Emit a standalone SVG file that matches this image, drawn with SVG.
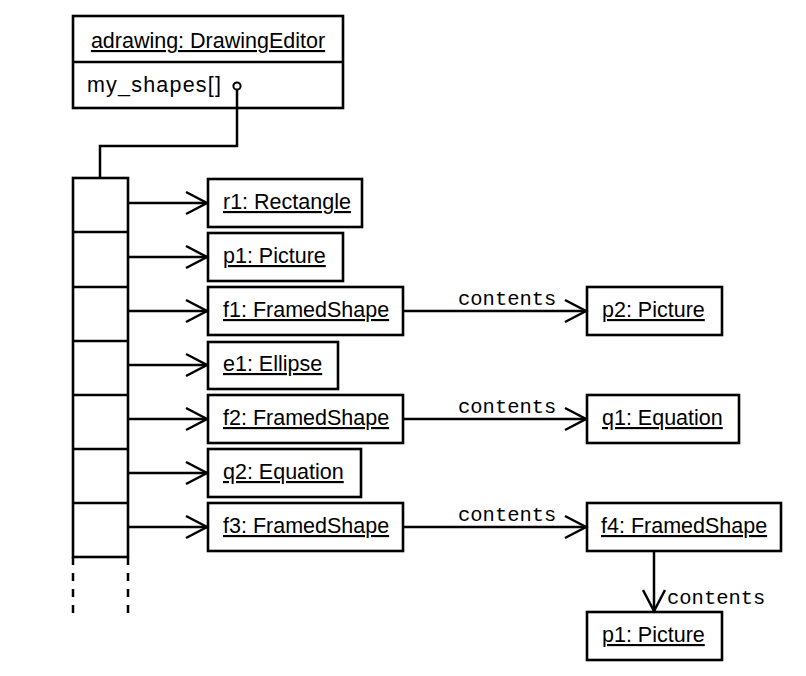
<svg xmlns="http://www.w3.org/2000/svg" width="806" height="676" viewBox="0 0 806 676">
<style>
.box{fill:#fff;stroke:#000;stroke-width:2.6}
.ln{fill:none;stroke:#000;stroke-width:2.5}
.t{font-family:"Liberation Sans",Arial,Helvetica,sans-serif;font-size:21.5px;fill:#000}
.u{text-decoration:underline;text-decoration-thickness:1.4px;text-underline-offset:3px}
.m{font-family:"Liberation Mono","Courier New",monospace;font-size:20.5px;fill:#000}
</style>
<defs>
<marker id="open" markerUnits="userSpaceOnUse" markerWidth="26" markerHeight="26" refX="21" refY="11" orient="auto" overflow="visible">
<path d="M0,0 L21,11 L0,22" fill="none" stroke="#000" stroke-width="2.5"/>
</marker>
</defs>
<rect width="806" height="676" fill="#fff"/>

<g id="adrawing">
<rect class="box" x="73" y="16" width="270" height="92"/>
<line class="ln" x1="73" y1="62" x2="343" y2="62"/>
<text class="t u" x="208" y="48" text-anchor="middle">adrawing: DrawingEditor</text>
<text class="t" x="87" y="92" letter-spacing="1.2">my_shapes[]</text>
<circle cx="237" cy="86" r="3.6" fill="#fff" stroke="#000" stroke-width="2"/>
</g>

<g id="array">
<rect class="box" x="73" y="178" width="55" height="379"/>
<line class="ln" x1="73" y1="232" x2="128" y2="232"/>
<line class="ln" x1="73" y1="287" x2="128" y2="287"/>
<line class="ln" x1="73" y1="341" x2="128" y2="341"/>
<line class="ln" x1="73" y1="395" x2="128" y2="395"/>
<line class="ln" x1="73" y1="449" x2="128" y2="449"/>
<line class="ln" x1="73" y1="503" x2="128" y2="503"/>
<line class="ln" x1="73" y1="557" x2="73" y2="613" stroke-dasharray="8 8"/>
<line class="ln" x1="128" y1="557" x2="128" y2="613" stroke-dasharray="8 8"/>
</g>

<g id="r1"><rect class="box" x="208" y="179" width="154" height="48"/><text class="t u" x="223" y="209">r1: Rectangle</text></g>
<g id="p1"><rect class="box" x="208" y="233" width="135" height="48"/><text class="t u" x="223" y="263">p1: Picture</text></g>
<g id="f1"><rect class="box" x="208" y="287" width="195" height="48"/><text class="t u" x="223" y="317">f1: FramedShape</text></g>
<g id="e1"><rect class="box" x="208" y="342" width="130" height="47"/><text class="t u" x="223" y="371">e1: Ellipse</text></g>
<g id="f2"><rect class="box" x="208" y="395" width="195" height="48"/><text class="t u" x="223" y="425">f2: FramedShape</text></g>
<g id="q2"><rect class="box" x="208" y="449" width="153" height="48"/><text class="t u" x="223" y="479">q2: Equation</text></g>
<g id="f3"><rect class="box" x="208" y="503" width="195" height="48"/><text class="t u" x="223" y="533">f3: FramedShape</text></g>

<g id="p2"><rect class="box" x="587" y="287" width="135" height="48"/><text class="t u" x="602" y="317">p2: Picture</text></g>
<g id="q1"><rect class="box" x="587" y="395" width="152" height="48"/><text class="t u" x="602" y="425">q1: Equation</text></g>
<g id="f4"><rect class="box" x="587" y="503" width="194" height="48"/><text class="t u" x="601" y="533">f4: FramedShape</text></g>
<g id="p1b"><rect class="box" x="587" y="612" width="135" height="48"/><text class="t u" x="602" y="642">p1: Picture</text></g>

<g id="connectors">
<polyline class="ln" points="237,90 237,146 100,146 100,178"/>
<line class="ln" x1="128" y1="203" x2="207" y2="203" marker-end="url(#open)"/>
<line class="ln" x1="128" y1="257" x2="207" y2="257" marker-end="url(#open)"/>
<line class="ln" x1="128" y1="311" x2="207" y2="311" marker-end="url(#open)"/>
<line class="ln" x1="128" y1="365" x2="207" y2="365" marker-end="url(#open)"/>
<line class="ln" x1="128" y1="419" x2="207" y2="419" marker-end="url(#open)"/>
<line class="ln" x1="128" y1="473" x2="207" y2="473" marker-end="url(#open)"/>
<line class="ln" x1="128" y1="527" x2="207" y2="527" marker-end="url(#open)"/>
<line class="ln" x1="403" y1="311" x2="586" y2="311" marker-end="url(#open)"/>
<line class="ln" x1="403" y1="419" x2="586" y2="419" marker-end="url(#open)"/>
<line class="ln" x1="403" y1="527" x2="586" y2="527" marker-end="url(#open)"/>
<line class="ln" x1="654" y1="551" x2="654" y2="611" marker-end="url(#open)"/>
<text class="m" x="458" y="305">contents</text>
<text class="m" x="458" y="413">contents</text>
<text class="m" x="458" y="521">contents</text>
<text class="m" x="667" y="604">contents</text>
</g>
</svg>
